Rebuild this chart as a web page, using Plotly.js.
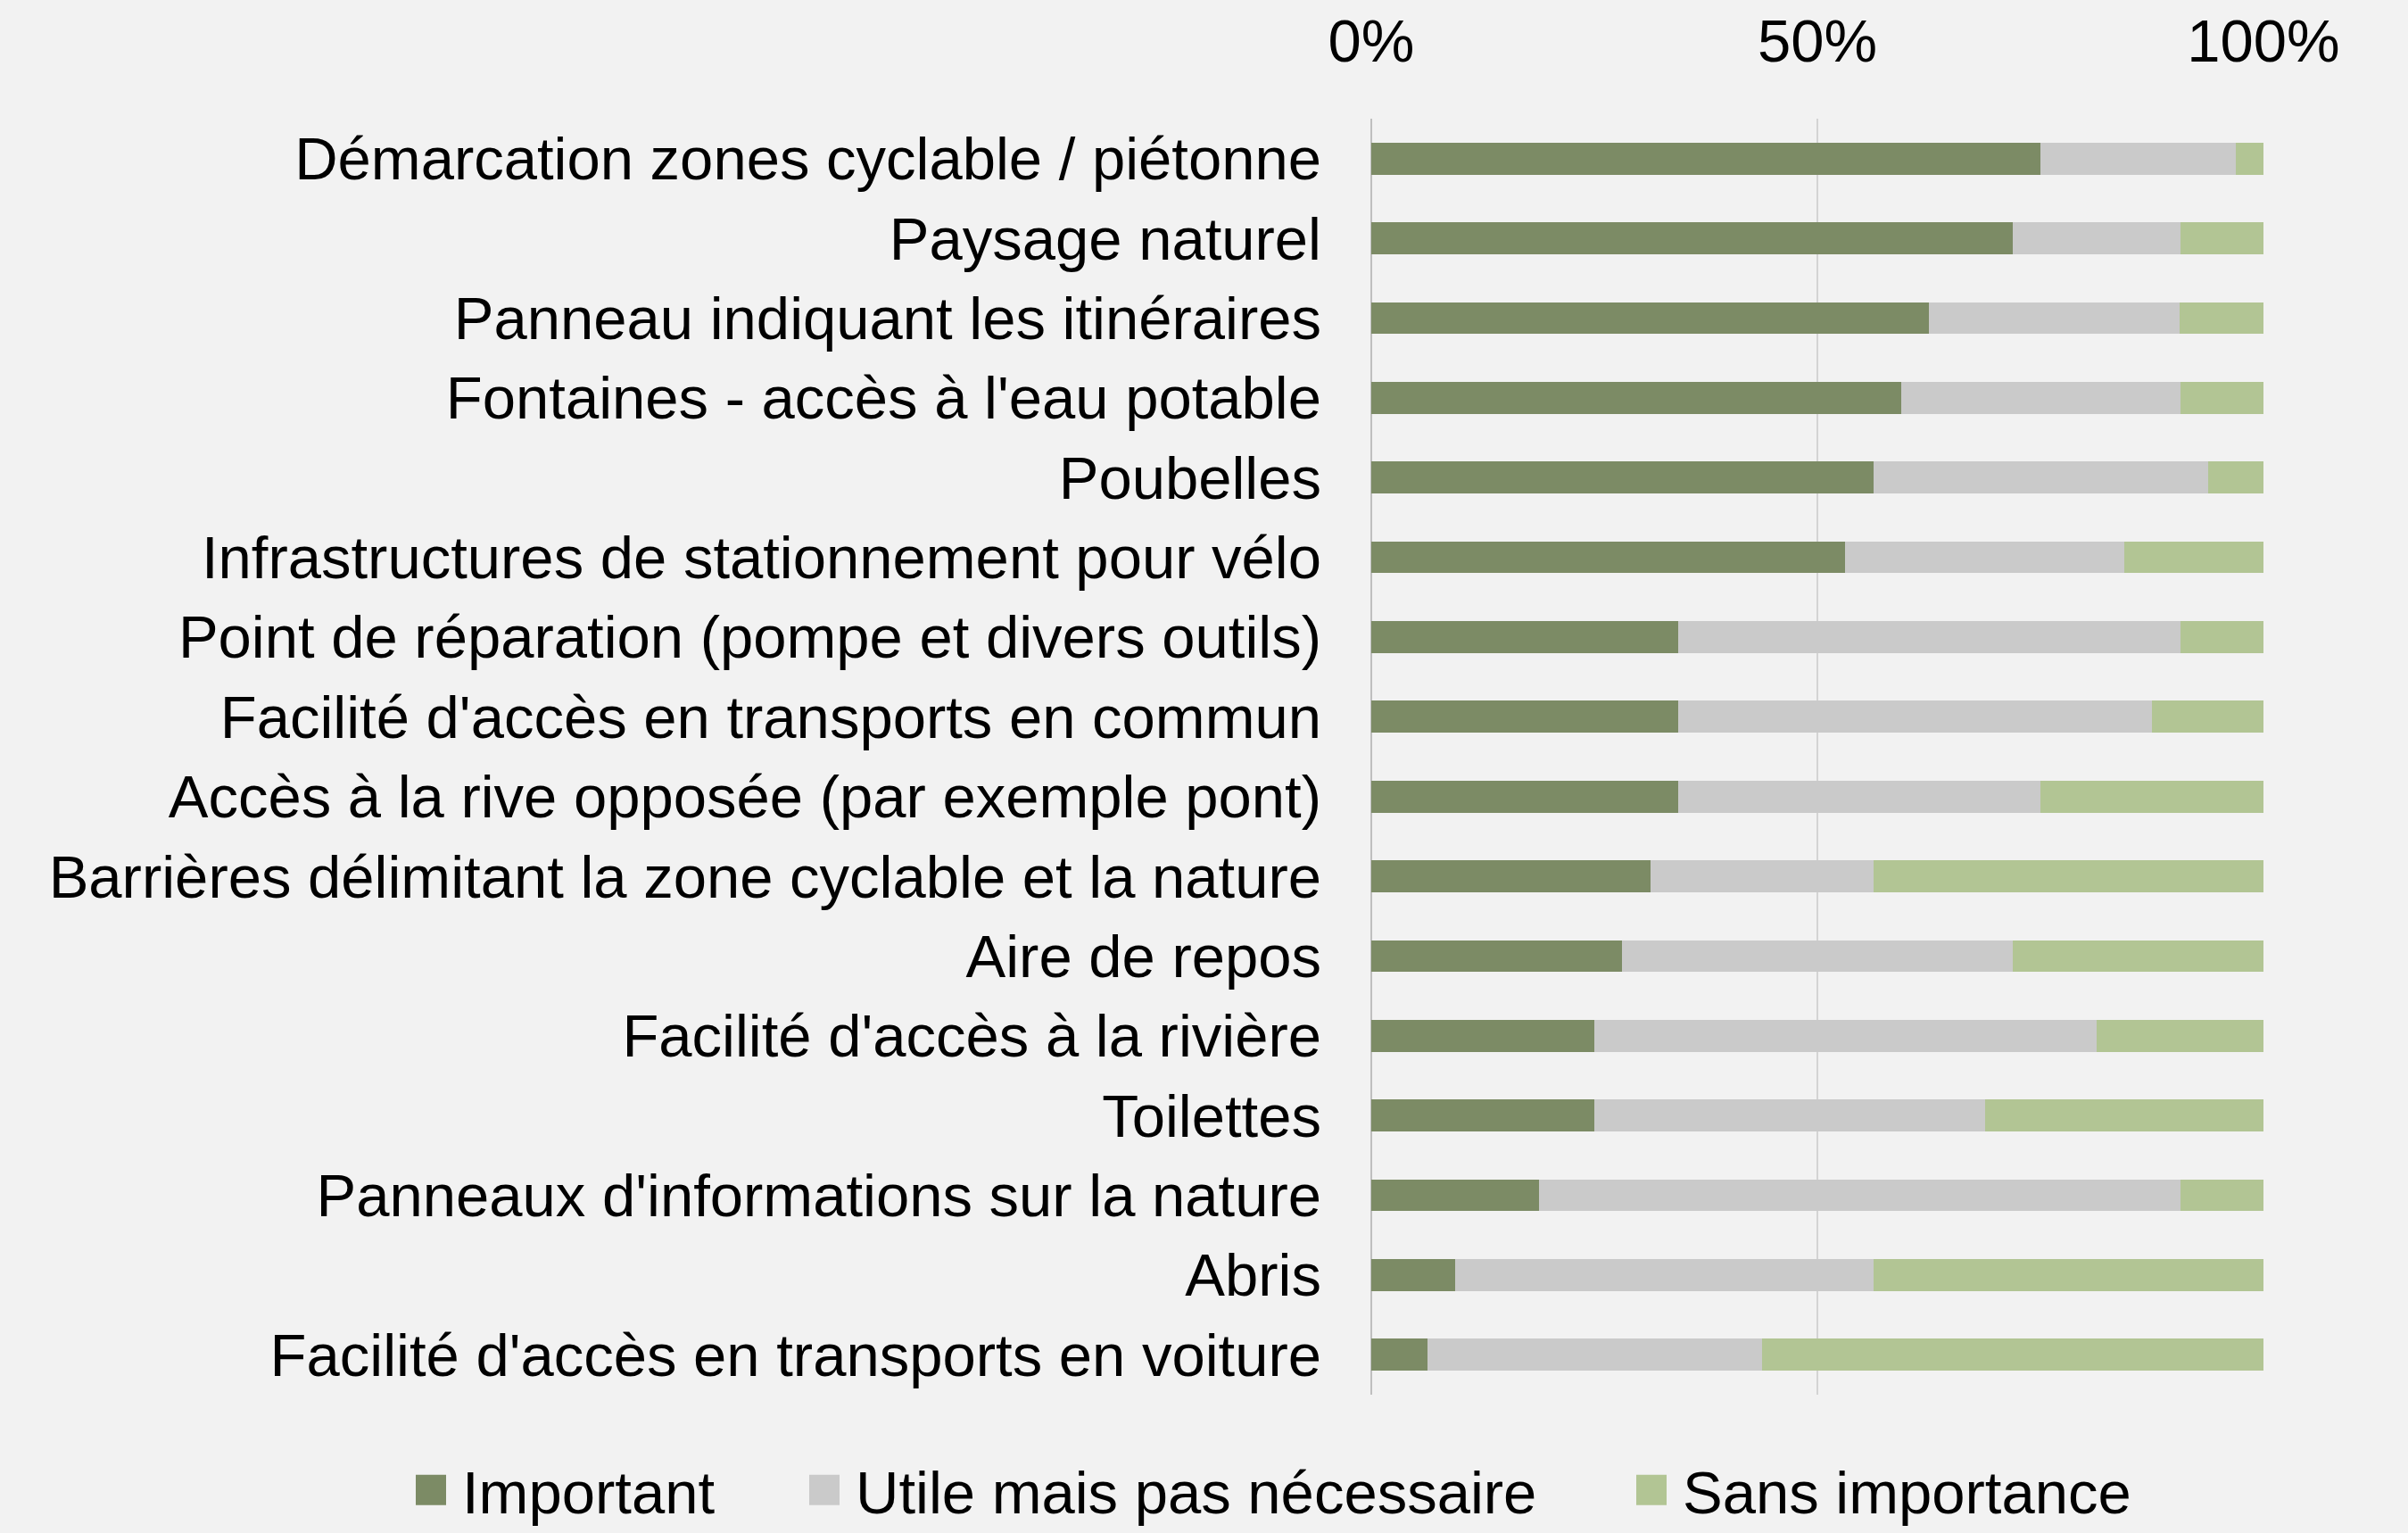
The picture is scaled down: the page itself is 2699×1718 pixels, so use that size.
<!DOCTYPE html>
<html>
<head>
<meta charset="utf-8">
<script src="https://cdn.plot.ly/plotly-3.0.1.min.js"></script>
<style>
html,body{margin:0;padding:0;background:#F2F2F2;}
#chart{width:2699px;height:1718px;}
</style>
</head>
<body>
<div id="chart"></div>
<script>
// Categories, top to bottom
const categories = [
  "Démarcation zones cyclable / piétonne",
  "Paysage naturel",
  "Panneau indiquant les itinéraires",
  "Fontaines - accès à l'eau potable",
  "Poubelles",
  "Infrastructures de stationnement pour vélo",
  "Point de réparation (pompe et divers outils)",
  "Facilité d'accès en transports en commun",
  "Accès à la rive opposée (par exemple pont)",
  "Barrières délimitant la zone cyclable et la nature",
  "Aire de repos",
  "Facilité d'accès à la rivière",
  "Toilettes",
  "Panneaux d'informations sur la nature",
  "Abris",
  "Facilité d'accès en transports en voiture"
];
// Shares in percent
const important = [75.0, 71.9, 62.5, 59.4, 56.3, 53.1, 34.4, 34.4, 34.4, 31.3, 28.1, 25.0, 25.0, 18.8, 9.4, 6.3];
const utile     = [21.9, 18.8, 28.1, 31.3, 37.5, 31.3, 56.3, 53.1, 40.6, 25.0, 43.8, 56.3, 43.8, 71.9, 46.9, 37.5];
const sans      = [3.1, 9.4, 9.4, 9.4, 6.3, 15.6, 9.4, 12.5, 25.0, 43.8, 28.1, 18.8, 31.3, 9.4, 43.8, 56.3];
const seriesNames = ["Important", "Utile mais pas nécessaire", "Sans importance"];
const seriesColors = ["#7C8B65", "#CACACA", "#B2C594"];
const legendWidths = [366, 852, null];
const tickVals = [0, 50, 100];
const tickText = ["0%", "50%", "100%"];

const FONT = "Liberation Sans, Arial, sans-serif";
const FS = 67;
const seriesValues = [important, utile, sans];

const traces = seriesValues.map((vals, i) => {
  const t = {
    type: "bar",
    orientation: "h",
    name: seriesNames[i],
    y: categories,
    x: vals,
    marker: {color: seriesColors[i], line: {width: 0}},
    hoverinfo: "name+x"
  };
  if (legendWidths[i]) t.legendwidth = legendWidths[i];
  return t;
});

const layout = {
  width: 2699,
  height: 1718,
  paper_bgcolor: "#F2F2F2",
  plot_bgcolor: "#F2F2F2",
  font: {family: FONT, size: FS, color: "#000"},
  margin: {l: 1537, r: 162, t: 133, b: 155, pad: 0, autoexpand: false},
  barmode: "stack",
  bargap: 0.6,
  showlegend: true,
  legend: {
    orientation: "h",
    xref: "paper", yref: "paper",
    x: -1.089, xanchor: "left",
    y: -0.075, yanchor: "middle",
    font: {family: FONT, size: FS, color: "#000"},
    itemwidth: 60,
    traceorder: "normal",
    bgcolor: "rgba(0,0,0,0)"
  },
  xaxis: {
    side: "top",
    range: [0, 100],
    tickvals: tickVals,
    ticktext: tickText,
    ticks: "",
    showgrid: true,
    gridcolor: "#D4D4D4",
    gridwidth: 2,
    zeroline: true,
    zerolinecolor: "#BFBFBF",
    zerolinewidth: 2,
    showline: false,
    ticklabelstandoff: 50,
    tickfont: {family: FONT, size: FS, color: "#000"},
    fixedrange: true
  },
  yaxis: {
    autorange: "reversed",
    type: "category",
    ticks: "",
    showgrid: false,
    zeroline: false,
    showline: false,
    ticklabelstandoff: 55,
    tickfont: {family: FONT, size: FS, color: "#000"},
    fixedrange: true
  }
};

const gd = document.getElementById("chart");
function enlargeSwatches() {
  gd.querySelectorAll(".legend .legendpoints path").forEach(p => {
    p.setAttribute("d", "M17,17H-17V-17H17Z");
  });
}
Plotly.newPlot(gd, traces, layout, {displayModeBar: false, staticPlot: true}).then(() => {
  enlargeSwatches();
  gd.on("plotly_afterplot", enlargeSwatches);
});
</script>
</body>
</html>
